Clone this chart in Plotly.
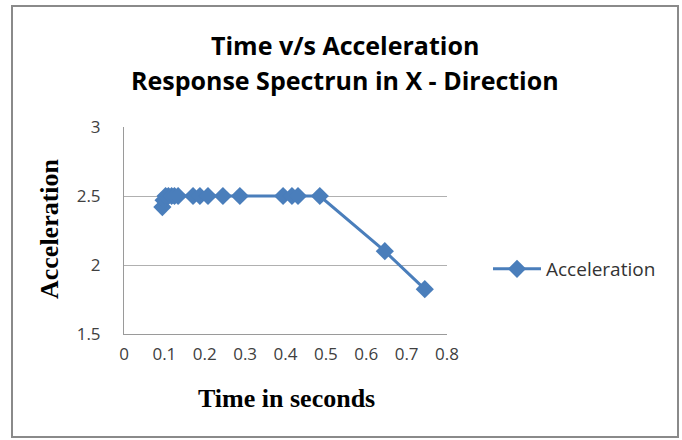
import plotly.graph_objects as go

# Data
time_s = [0.095, 0.098, 0.103, 0.110, 0.118, 0.125, 0.134, 0.171, 0.188, 0.208,
          0.245, 0.287, 0.394, 0.416, 0.431, 0.485, 0.646, 0.745]
accel = [2.42, 2.47, 2.50, 2.50, 2.50, 2.50, 2.50, 2.50, 2.50, 2.50,
         2.50, 2.50, 2.50, 2.50, 2.50, 2.50, 2.10, 1.825]
x_ticks = [0, 0.1, 0.2, 0.3, 0.4, 0.5, 0.6, 0.7, 0.8]
x_tick_labels = ["0", "0.1", "0.2", "0.3", "0.4", "0.5", "0.6", "0.7", "0.8"]
y_ticks = [1.5, 2, 2.5, 3]
y_tick_labels = ["1.5", "2", "2.5", "3"]

W, H = 682, 440
L, R, T, B = 124, 447, 127, 334  # plot area in pixels
pw, ph = R - L, B - T

def px(x):
    return (x - L) / pw

def py(y):
    return (B - y) / ph

blue = "#4A7EBB"
fig = go.Figure()
fig.add_trace(go.Scatter(
    x=time_s, y=accel, mode="lines+markers", name="Acceleration",
    line=dict(color=blue, width=3),
    marker=dict(symbol="diamond", size=14, color=blue),
))

sans = "Open Sans, Noto Sans, sans-serif"
serif = "Liberation Serif, Times New Roman, serif"

fig.update_layout(
    width=W, height=H,
    margin=dict(l=L, r=W - R, t=T, b=H - B, pad=0),
    paper_bgcolor="white", plot_bgcolor="white",
    showlegend=True,
    legend=dict(x=px(488), y=py(269), xanchor="left", yanchor="middle",
                font=dict(family=sans, size=19, color="#333333"),
                bgcolor="rgba(0,0,0,0)", itemwidth=48),
    xaxis=dict(range=[0, 0.8], tickvals=x_ticks, ticktext=x_tick_labels,
               showgrid=False, zeroline=False, showline=True,
               linecolor="#9a9a9a", linewidth=1, ticks="",
               ticklabelstandoff=5,
               tickfont=dict(family=sans, size=17, color="#404040")),
    yaxis=dict(range=[1.5, 3], tickvals=y_ticks, ticktext=y_tick_labels,
               showgrid=True, gridcolor="#b0b0b0", gridwidth=1,
               zeroline=False, showline=True,
               linecolor="#9a9a9a", linewidth=1, ticks="",
               ticklabelstandoff=19,
               tickfont=dict(family=sans, size=17, color="#404040")),
    annotations=[
        dict(text="<b>Time v/s Acceleration</b>", x=px(345), y=py(45),
             xref="paper", yref="paper", showarrow=False,
             xanchor="center", yanchor="middle",
             font=dict(family=sans, size=25, color="#000000")),
        dict(text="<b>Response Spectrun in X - Direction</b>", x=px(345), y=py(80),
             xref="paper", yref="paper", showarrow=False,
             xanchor="center", yanchor="middle",
             font=dict(family=sans, size=25, color="#000000")),
        dict(text="<b>Time in seconds</b>", x=px(286), y=py(398),
             xref="paper", yref="paper", showarrow=False,
             xanchor="center", yanchor="middle",
             font=dict(family=serif, size=26, color="#000000")),
        dict(text="<b>Acceleration</b>", x=px(49), y=py(229),
             xref="paper", yref="paper", showarrow=False, textangle=-90,
             xanchor="center", yanchor="middle",
             font=dict(family=serif, size=26, color="#000000")),
    ],
    shapes=[
        dict(type="rect", xref="paper", yref="paper",
             x0=px(12), x1=px(678), y0=py(437), y1=py(6),
             line=dict(color="#8a8a8a", width=2), layer="below"),
    ],
)

fig.write_html("out.html")
